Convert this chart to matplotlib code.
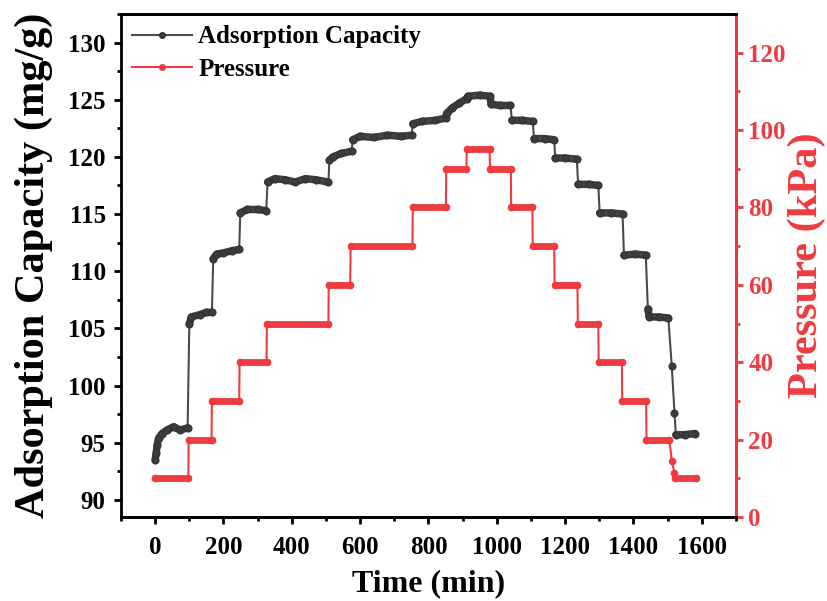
"""Adsorption capacity and pressure against time, two y axes."""

import matplotlib

matplotlib.use("Agg")

import matplotlib.pyplot as plt
import numpy as np
from matplotlib.lines import Line2D
from matplotlib.ticker import FixedLocator, MultipleLocator

# readings taken off the original figure
ads_time = [0, 3, 6, 10, 20, 34, 54, 73, 95,
            100, 106, 130, 150, 166,
            170, 180, 200, 225, 246,
            249, 270, 300, 325,
            329, 350, 380, 410, 440, 470, 507,
            510, 520, 545, 575,
            578, 600, 640, 680, 720, 751,
            754, 780, 820, 850,
            853, 870, 890, 912,
            915, 950, 980,
            983, 1010, 1040,
            1044, 1075, 1105,
            1109, 1140, 1168,
            1171, 1200, 1234,
            1238, 1270, 1297,
            1301, 1335, 1368,
            1372, 1405, 1436,
            1442,
            1446, 1475, 1502,
            1512, 1520,
            1524, 1550, 1580]
ads_value = [93.5, 94.1, 94.8, 95.4, 95.8, 96.1, 96.4, 96.1, 96.3,
             105.4, 106.0, 106.2, 106.4, 106.4,
             111.1, 111.5, 111.6, 111.8, 111.9,
             115.1, 115.4, 115.4, 115.3,
             117.8, 118.1, 118.0, 117.8, 118.1, 118.0, 117.8,
             119.7, 120.0, 120.3, 120.5,
             121.5, 121.8, 121.7, 121.9, 121.8, 121.9,
             122.9, 123.1, 123.2, 123.4,
             123.8, 124.3, 124.7, 125.1,
             125.3, 125.4, 125.3,
             124.6, 124.5, 124.5,
             123.2, 123.2, 123.1,
             121.6, 121.6, 121.5,
             119.9, 119.9, 119.8,
             117.6, 117.6, 117.5,
             115.1, 115.1, 115.0,
             111.4, 111.5, 111.4,
             106.7,
             106.0, 106.0, 105.9,
             101.7, 97.6,
             95.7, 95.7, 95.8]

pres_time = [0, 97, 98, 165, 166, 246, 247, 326, 327, 507, 508, 571,
             572, 753, 754, 851, 852, 911, 912, 979, 980, 1041, 1042, 1104,
             1105, 1168, 1169, 1236, 1237, 1297, 1298, 1366, 1367, 1437,
             1438, 1505, 1512, 1520, 1522, 1583]
pres_value = [10, 10, 20, 20, 30, 30, 40, 40, 50, 50, 60, 60,
              70, 70, 80, 80, 90, 90, 95, 95, 90, 90, 80, 80,
              70, 70, 60, 60, 50, 50, 40, 40, 30, 30,
              20, 20, 14.5, 11.3, 10, 10]

x_ticks = [0, 200, 400, 600, 800, 1000, 1200, 1400, 1600]
ads_ticks = [90, 95, 100, 105, 110, 115, 120, 125, 130]
pres_ticks = [0, 20, 40, 60, 80, 100, 120]

BLACK = "#4a4a4a"
RED = "#ee3b3f"

plt.rcParams["font.family"] = ["Liberation Serif", "DejaVu Serif"]
plt.rcParams["font.weight"] = "bold"
plt.rcParams["axes.labelweight"] = "bold"


def plateau_path(t, v, jump):
    """Split a stepped series where it jumps, so plateaus can be drawn thick."""
    xs, ys = [t[0]], [v[0]]
    for i in range(1, len(t)):
        if abs(v[i] - v[i - 1]) >= jump:
            xs.append(np.nan)
            ys.append(np.nan)
        xs.append(t[i])
        ys.append(v[i])
    return xs, ys


fig = plt.figure(figsize=(8.28, 6.01), dpi=100)
ax = fig.add_axes([121 / 828, 1 - 517 / 601, 615 / 828, 503 / 601])
ax2 = ax.twinx()

# adsorption capacity (left axis)
bx, by = plateau_path(ads_time, ads_value, 1.0)
ax.plot(bx, by, color="#3e3e3e", lw=5.4, solid_capstyle="round", zorder=2)
ax.plot(ads_time, ads_value, color=BLACK, lw=1.5, marker="o", ms=5.2,
        mfc="#3c3c3c", mec="#2f2f2f", mew=0.6, zorder=3)

# pressure (right axis)
rx, ry = plateau_path(pres_time, pres_value, 1.0)
ax2.plot(rx, ry, color=RED, lw=4.9, solid_capstyle="round", zorder=2)
ax2.plot(rx, ry, color="white", lw=0.7, ls=(0, (1, 3)), alpha=0.6, zorder=3)
ax2.plot(pres_time, pres_value, color=RED, lw=1.5, marker="o", ms=5,
         mfc=RED, mec=RED, mew=0.5, zorder=3)

ax.set_xlim(-100, 1700)
ax.set_ylim(88.5, 132.5)
ax2.set_ylim(0, 130)

ax.xaxis.set_major_locator(FixedLocator(x_ticks))
ax.xaxis.set_minor_locator(MultipleLocator(100))
ax.yaxis.set_major_locator(FixedLocator(ads_ticks))
ax.yaxis.set_minor_locator(MultipleLocator(2.5))
ax2.yaxis.set_major_locator(FixedLocator(pres_ticks))
ax2.yaxis.set_minor_locator(FixedLocator([10, 30, 50, 70, 90, 110]))

for a in (ax, ax2):
    for s in a.spines.values():
        s.set_linewidth(2.0)
ax2.spines["right"].set_color(RED)
ax2.spines["left"].set_visible(False)

ax.tick_params(axis="both", which="major", direction="out", length=5,
               width=2, labelsize=18, pad=6)
ax.tick_params(axis="x", which="major", pad=9)
ax.tick_params(axis="both", which="minor", direction="out", length=3,
               width=2)
ax.tick_params(axis="y", right=False)
ax.tick_params(axis="x", top=False)
ax2.tick_params(axis="y", which="major", direction="out", length=5, width=2,
                labelsize=18, pad=4, colors=RED)
ax2.tick_params(axis="y", which="minor", direction="out", length=3, width=2,
                colors=RED)

for lab in ax.get_xticklabels() + ax.get_yticklabels() + ax2.get_yticklabels():
    lab.set_fontweight("bold")

ax.set_xlabel("Time (min)", fontsize=23, fontweight="bold", labelpad=7)
ax.set_ylabel("Adsorption Capacity (mg/g)", fontsize=30.5, fontweight="bold")
ax.yaxis.set_label_coords(-0.111, 0.5)
ax2.set_ylabel("Pressure (kPa)", fontsize=30.5, fontweight="bold", color=RED)
ax2.yaxis.set_label_coords(1.0846, 0.5)

handles = [
    Line2D([], [], color=BLACK, lw=1.5, marker="o", ms=4, mfc="#3c3c3c",
           mec="#2f2f2f"),
    Line2D([], [], color=RED, lw=1.5, marker="o", ms=4, mfc=RED, mec=RED),
]
ax2.legend(handles, ["Adsorption Capacity", "Pressure"], loc="upper left",
           bbox_to_anchor=(0.0, 1.0), frameon=False,
           prop={"weight": "bold", "size": 18}, numpoints=1,
           handlelength=2.4, handletextpad=0.25, labelspacing=0.38,
           borderaxespad=0.15, borderpad=0.3)

fig.savefig("out.png", dpi=100)
